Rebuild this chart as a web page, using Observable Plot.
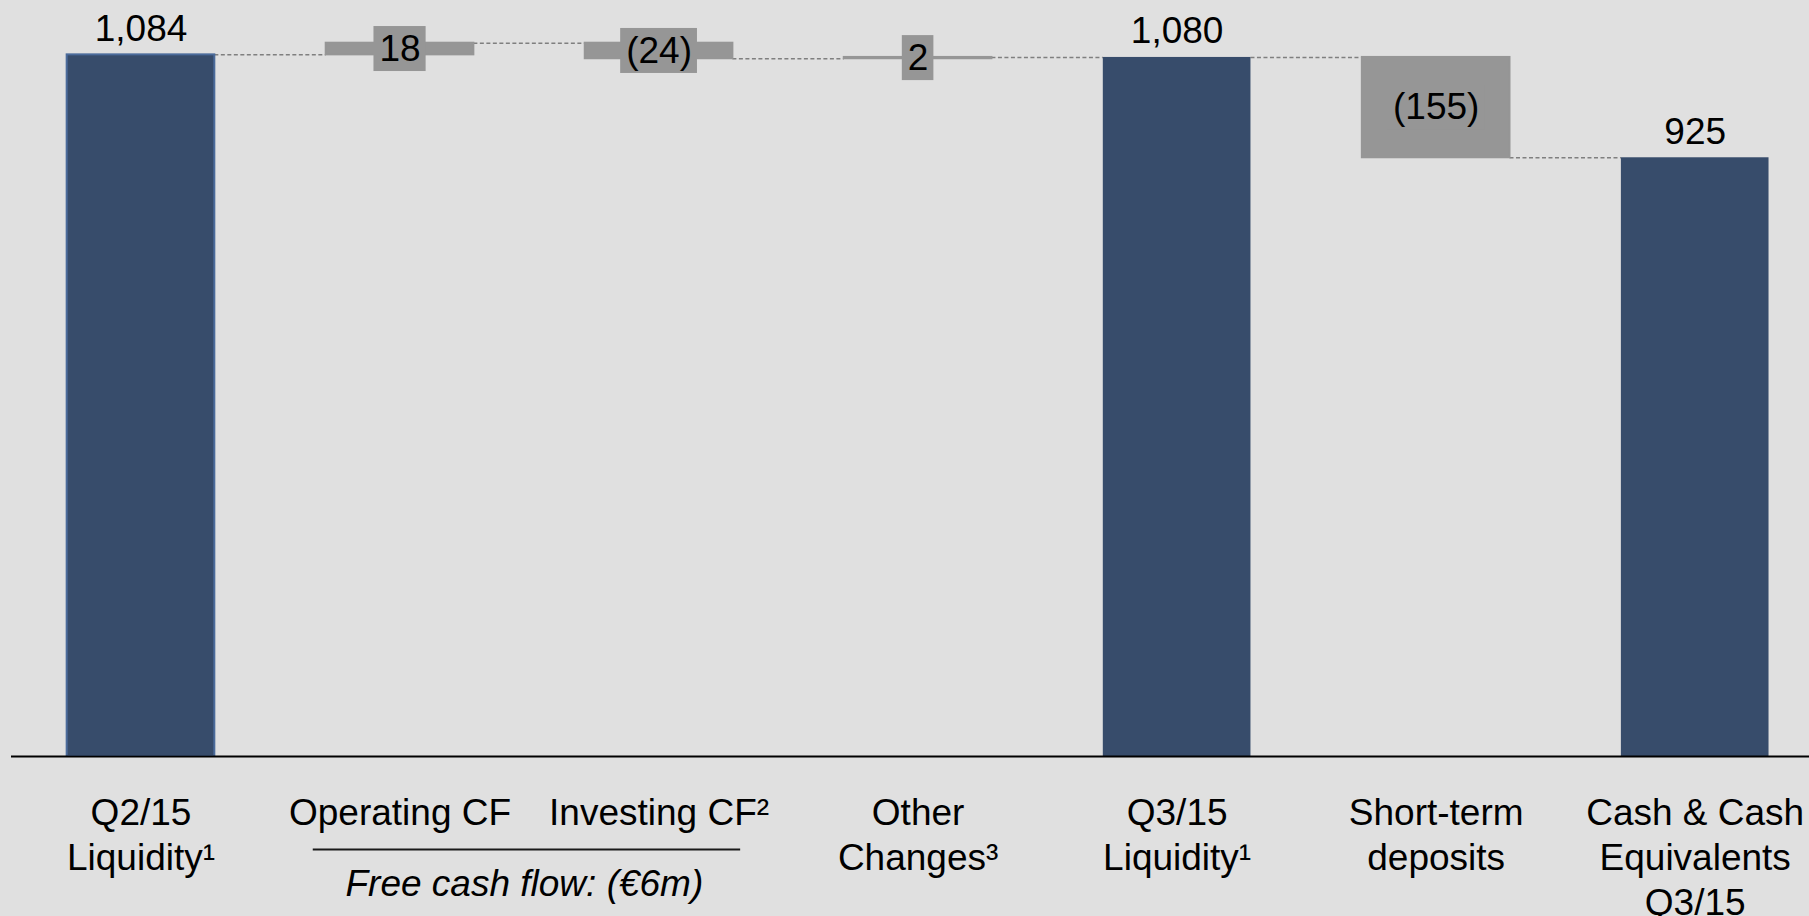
<!DOCTYPE html>
<html>
<head>
<meta charset="utf-8">
<script src="https://cdn.jsdelivr.net/npm/d3@7"></script>
<script src="https://cdn.jsdelivr.net/npm/@observablehq/plot@0.6"></script>
<style>
  html, body { margin: 0; padding: 0; background: #e0e0e0; }
  #chart svg { display: block; }
</style>
</head>
<body>
<div id="chart"></div>
<script>
// ---- data ----
const categories = [
  "Q2/15\nLiquidity¹",
  "Operating CF",
  "Investing CF²",
  "Other\nChanges³",
  "Q3/15\nLiquidity¹",
  "Short-term\ndeposits",
  "Cash & Cash\nEquivalents\nQ3/15"
];
const kinds = ["total", "delta", "delta", "delta", "total", "delta", "total"];
const amounts = [1084, 18, -24, 2, 1080, -155, 925];
const valueLabels = ["1,084", "18", "(24)", "2", "1,080", "(155)", "925"];
const groupLabel = "Free cash flow: (€6m)";
const groupSpan = [1, 2]; // indices of the categories grouped under the label

// ---- styles ----
const FONT = "'Liberation Sans', Arial, Helvetica, sans-serif";
const FS = 37;
const DARK = "#374c6b";
const DARK_EDGE = "#4b6b9b";
const GRAY = "#969696";
const HALF = 0.285; // half bar width in category units

// ---- derived waterfall rows ----
let running = 0;
const rows = categories.map((label, i) => {
  let start, end;
  if (kinds[i] === "total") { start = 0; end = amounts[i]; }
  else { start = running; end = running + amounts[i]; }
  running = end;
  return {i, label, kind: kinds[i], start, end, mid: (start + end) / 2, text: valueLabels[i]};
});
const totals = rows.filter(d => d.kind === "total");
const deltas = rows.filter(d => d.kind === "delta");
const connectors = rows.slice(0, -1).map(d => ({i: d.i, level: d.end}));

// text measurement for label boxes
const ctx = document.createElement("canvas").getContext("2d");
ctx.font = `${FS}px ${FONT}`;
const measure = s => ctx.measureText(s).width;

function boxedText(data, options) {
  return Plot.text(data, {
    ...options,
    render(index, scales, values, dimensions, context, next) {
      const textNode = next(index, scales, values, dimensions, context);
      const g = d3.create("svg:g");
      for (const k of index) {
        const w = measure(data[k].text) + 11;
        const h = 45;
        g.append("rect")
          .attr("x", values.x[k] - w / 2)
          .attr("y", values.y[k] - h / 2)
          .attr("width", w)
          .attr("height", h)
          .attr("fill", GRAY);
      }
      g.node().appendChild(textNode);
      return g.node();
    }
  });
}

const chart = Plot.plot({
  width: 1809,
  height: 916,
  marginTop: 44,
  marginBottom: 160,
  marginLeft: 11,
  marginRight: 0,
  style: {background: "#e0e0e0", fontFamily: FONT, overflow: "visible"},
  x: {type: "linear", domain: [0, 6], range: [140.5, 1694.7], axis: null},
  y: {domain: [0, 1100], axis: null},
  marks: [
    // connectors
    Plot.ruleY(connectors, {
      y: "level",
      x1: d => d.i + HALF,
      x2: d => d.i + 1 - HALF,
      stroke: "#7f7f7f",
      strokeWidth: 1.5,
      strokeDasharray: "4,2.5"
    }),
    // bars
    Plot.rectY(rows, {
      x1: d => d.i - HALF,
      x2: d => d.i + HALF,
      y1: "start",
      y2: "end",
      fill: d => d.kind === "total" ? DARK : GRAY,
      stroke: d => d.kind === "delta" ? GRAY : (d.i === 0 ? DARK_EDGE : "none"),
      strokeWidth: 2
    }),
    // baseline
    Plot.ruleY([0], {stroke: "#000", strokeWidth: 2}),
    // total value labels
    Plot.text(totals, {
      x: "i", y: "end", text: "text",
      dy: -14, lineAnchor: "bottom",
      fontSize: FS, fill: "#000"
    }),
    // delta labels in boxes
    boxedText(deltas, {
      x: "i", y: "mid", text: "text",
      lineAnchor: "middle",
      fontSize: FS, fill: "#000"
    }),
    // category labels
    Plot.text(rows, {
      x: "i", text: "label",
      frameAnchor: "bottom", lineAnchor: "top",
      dy: 37, lineHeight: 1.216,
      fontSize: FS, fill: "#000"
    }),
    // group rule + label
    Plot.ruleY([0], {
      x1: groupSpan[0] - 0.335,
      x2: groupSpan[1] + 0.315,
      dy: 93,
      stroke: "#1a1a1a",
      strokeWidth: 2
    }),
    Plot.text([groupLabel], {
      x: (groupSpan[0] + groupSpan[1]) / 2 - 0.02,
      text: d => d,
      frameAnchor: "bottom", lineAnchor: "bottom",
      dy: 139,
      fontSize: FS, fontStyle: "italic", fill: "#000"
    })
  ]
});

document.getElementById("chart").appendChild(chart);
</script>
</body>
</html>
